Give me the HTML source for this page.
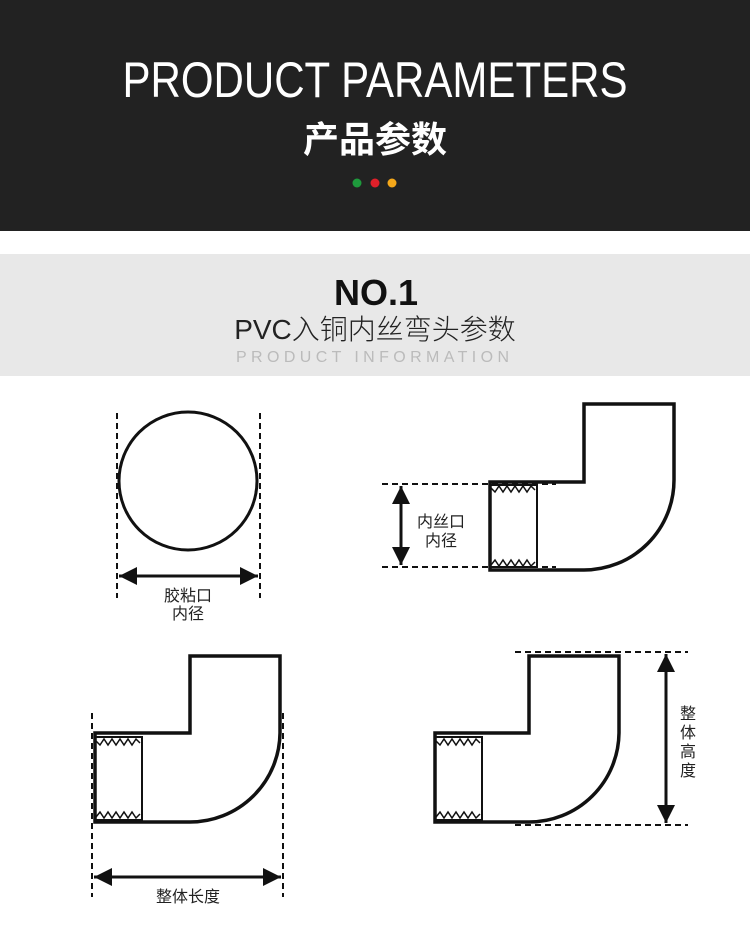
<!DOCTYPE html>
<html><head><meta charset="utf-8"><style>
body{margin:0;width:750px;height:938px;background:#fff;overflow:hidden}
svg{display:block}
</style></head><body>
<svg width="750" height="938" viewBox="0 0 750 938" xmlns="http://www.w3.org/2000/svg">
<defs>
<marker id="ar" viewBox="0 0 10 10" refX="10" refY="5" markerWidth="6" markerHeight="6" orient="auto-start-reverse" markerUnits="strokeWidth"><path d="M0,0 L10,5 L0,10 Z" fill="#111"/></marker>
</defs>
<rect x="0" y="0" width="750" height="231" fill="#222"/>
<text x="375" y="97" text-anchor="middle" fill="#fff" font-family="Liberation Sans, sans-serif" font-size="50" font-weight="300" textLength="505" lengthAdjust="spacingAndGlyphs">PRODUCT PARAMETERS</text>
<text x="375" y="152" text-anchor="middle" fill="#fff" font-family="Liberation Sans, Noto Sans CJK SC, sans-serif" font-size="36" font-weight="bold">产品参数</text>
<circle cx="357" cy="183" r="4.5" fill="#1e9a3c"/>
<circle cx="375" cy="183" r="4.5" fill="#e0202a"/>
<circle cx="392" cy="183" r="4.5" fill="#f5a81a"/>
<rect x="0" y="254" width="750" height="122" fill="#e8e8e8"/>
<text x="376" y="305" text-anchor="middle" fill="#111" font-family="Liberation Sans, sans-serif" font-size="36" font-weight="900">NO.1</text>
<text x="375" y="339" text-anchor="middle" fill="#222" font-family="Liberation Sans, Noto Sans CJK SC, sans-serif" font-size="28" font-weight="300">PVC入铜内丝弯头参数</text>
<text x="375" y="362" text-anchor="middle" fill="#bbb" font-family="Liberation Sans, sans-serif" font-size="16" letter-spacing="5" textLength="278" lengthAdjust="spacing">PRODUCT INFORMATION</text>

<g fill="none" stroke="#111">
<circle cx="188" cy="481" r="69" stroke-width="3"/>
<line x1="117" y1="413" x2="117" y2="598" stroke-width="2" stroke-dasharray="6,4"/>
<line x1="260" y1="413" x2="260" y2="598" stroke-width="2" stroke-dasharray="6,4"/>
<line x1="119" y1="576" x2="258" y2="576" stroke-width="3" marker-start="url(#ar)" marker-end="url(#ar)"/>

<path d="M490 570 V482 H584 V404 H674 V480 A90 90 0 0 1 584 570 Z" stroke-width="3.5"/>
<rect x="490" y="485" width="47" height="82" stroke-width="2"/>
<polyline points="491,488 495,492 499,486 503,492 507,486 511,492 515,486 519,492 523,486 527,492 531,486 535,490" stroke-width="1.5"/>
<polyline points="491,565 495,560 499,566 503,560 507,566 511,560 515,566 519,560 523,566 527,560 531,566 535,562" stroke-width="1.5"/>
<line x1="382" y1="484" x2="556" y2="484" stroke-width="2" stroke-dasharray="6,4"/>
<line x1="382" y1="567" x2="556" y2="567" stroke-width="2" stroke-dasharray="6,4"/>
<line x1="401" y1="486" x2="401" y2="565" stroke-width="3" marker-start="url(#ar)" marker-end="url(#ar)"/>

<path d="M95 822 V733 H190 V656 H280 V733 A90 90 0 0 1 190 822 Z" stroke-width="3.5"/>
<rect x="95" y="737" width="47" height="83" stroke-width="2"/>
<polyline points="96,741 100,745 104,739 108,745 112,739 116,745 120,739 124,745 128,739 132,745 136,739 140,743" stroke-width="1.5"/>
<polyline points="96,817 100,812 104,818 108,812 112,818 116,812 120,818 124,812 128,818 132,812 136,818 140,814" stroke-width="1.5"/>
<line x1="92" y1="713" x2="92" y2="897" stroke-width="2" stroke-dasharray="6,4"/>
<line x1="283" y1="713" x2="283" y2="897" stroke-width="2" stroke-dasharray="6,4"/>
<line x1="94" y1="877" x2="281" y2="877" stroke-width="3" marker-start="url(#ar)" marker-end="url(#ar)"/>

<path d="M435 822 V733 H529 V656 H619 V733 A90 90 0 0 1 529 822 Z" stroke-width="3.5"/>
<rect x="435" y="737" width="47" height="83" stroke-width="2"/>
<polyline points="436,741 440,745 444,739 448,745 452,739 456,745 460,739 464,745 468,739 472,745 476,739 480,743" stroke-width="1.5"/>
<polyline points="436,817 440,812 444,818 448,812 452,818 456,812 460,818 464,812 468,818 472,812 476,818 480,814" stroke-width="1.5"/>
<line x1="515" y1="652" x2="688" y2="652" stroke-width="2" stroke-dasharray="6,4"/>
<line x1="515" y1="825" x2="688" y2="825" stroke-width="2" stroke-dasharray="6,4"/>
<line x1="666" y1="654" x2="666" y2="823" stroke-width="3" marker-start="url(#ar)" marker-end="url(#ar)"/>
</g>

<g fill="#222" font-family="Liberation Sans, Noto Sans CJK SC, sans-serif" font-size="16" text-anchor="middle">
<text x="188" y="601">胶粘口</text>
<text x="188" y="619">内径</text>
<text x="441" y="527">内丝口</text>
<text x="441" y="546">内径</text>
<text x="188" y="902">整体长度</text>
<text x="688" y="719">整</text>
<text x="688" y="738">体</text>
<text x="688" y="757">高</text>
<text x="688" y="776">度</text>
</g>
</svg>
</body></html>
